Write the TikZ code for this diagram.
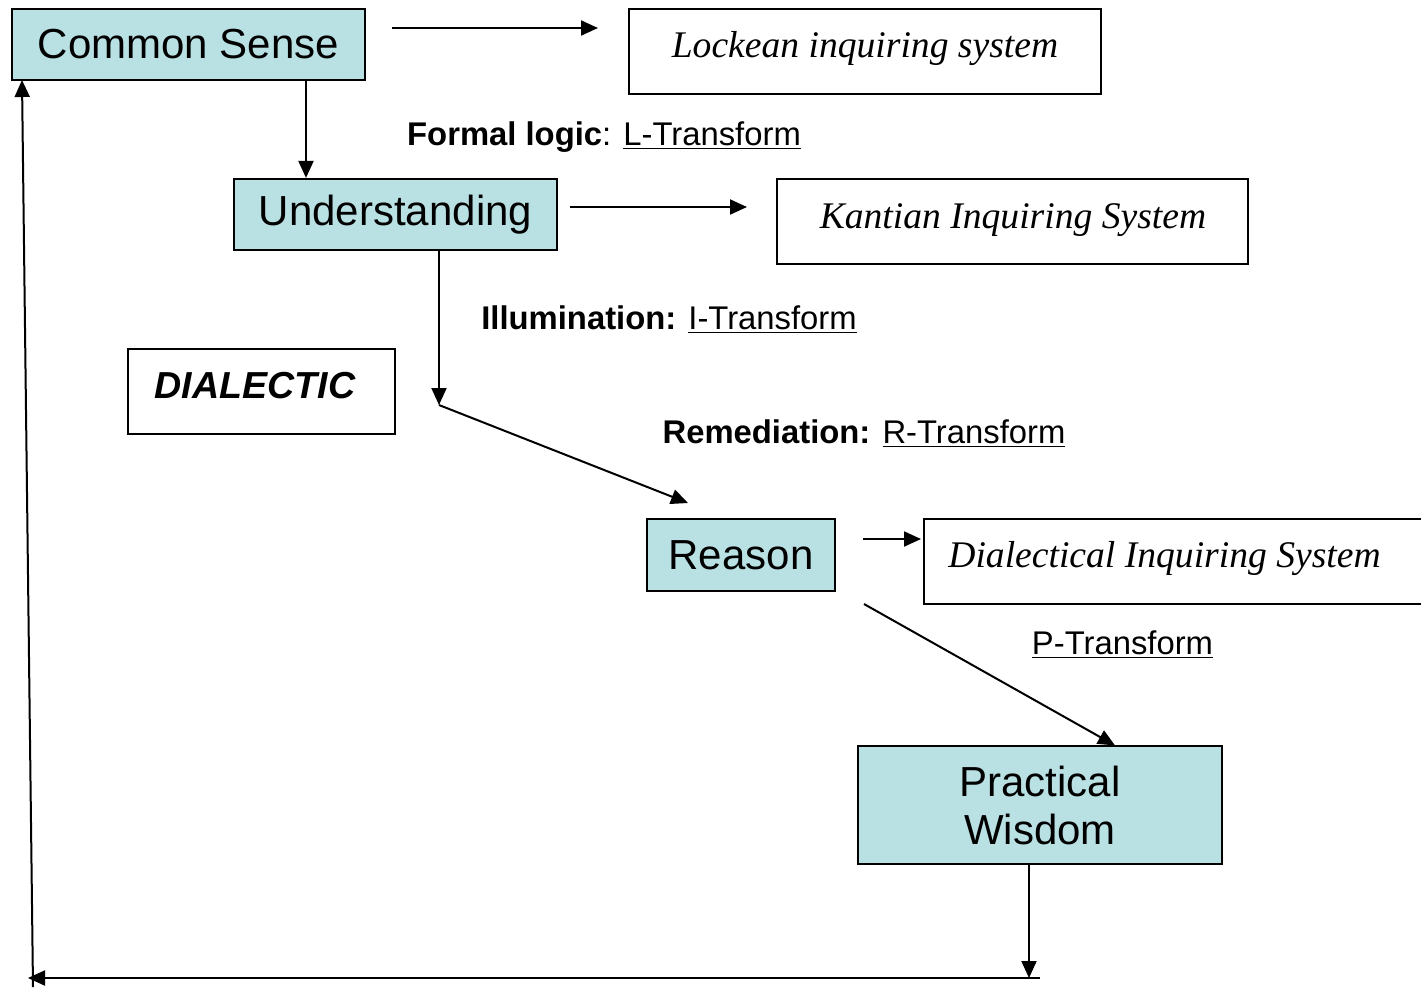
\documentclass[tikz,border=0pt]{standalone}
\usepackage{fontspec}
\setmainfont{Liberation Serif}
\newfontfamily\arialf{Liberation Sans}
\usetikzlibrary{arrows.meta}
\definecolor{teal0}{HTML}{B9E0E3}
\tikzset{
  tbox/.style={draw=black, line width=1.1pt, fill=teal0, inner sep=0pt, font=\arialf\fontsize{21}{24}\selectfont, align=center},
  wbox/.style={draw=black, line width=1.3pt, fill=white, inner sep=0pt},
  itxt/.style={inner sep=0pt, anchor=base, font=\fontsize{18.8}{22}\selectfont\itshape},
  lbl/.style={inner sep=0pt, anchor=base, font=\arialf\fontsize{16.4}{19}\selectfont},
  arr/.style={line width=1pt, -{Triangle[length=8.5pt,width=7.5pt]}},
  ln/.style={line width=1pt}
}
\begin{document}
\begin{tikzpicture}[x=0.5pt,y=-0.5pt]
\clip (0,0) rectangle (1421,987);
\fill[white] (0,0) rectangle (1421,987);
% teal boxes
\node[tbox, minimum width=176.5pt, minimum height=35.5pt] (cs) at (188.5,44.5) {Common Sense};
\node[tbox, minimum width=161.5pt, minimum height=35.5pt] (und) at (395.5,214.5) {Understanding};
\node[tbox, minimum width=94pt, minimum height=36pt] (rea) at (741,555) {Reason};
\node[tbox, line width=0.6pt, minimum width=182pt, minimum height=59pt] (pw) at (1040,805) {Practical\\Wisdom};
% white boxes
\node[wbox, minimum width=236pt, minimum height=42.5pt] (lock) at (865,51.5) {};
\node[itxt] (lockt) at (865,57) {Lockean inquiring system};
\node[wbox, minimum width=235.5pt, minimum height=42.5pt] (kant) at (1012.5,221.5) {};
\node[itxt] (kantt) at (1013,228) {Kantian Inquiring System};
\node[wbox, minimum width=133.5pt, minimum height=42.5pt] (dial) at (261.5,391.5) {};
\node[inner sep=0pt, anchor=base, font=\arialf\fontsize{18.8}{22}\selectfont\bfseries\itshape] (dialt) at (255,398) {DIALECTIC};
\node[wbox, minimum width=260pt, minimum height=42.5pt] (dis) at (1184,561.5) {};
\node[itxt] (dist) at (1164.5,567) {Dialectical Inquiring System};
% labels
\node[lbl] (l1) at (604,145) {\textbf{Formal logic}: \underline{L-Transform}};
\node[lbl] (l2) at (669,329) {\textbf{Illumination:} \underline{I-Transform}};
\node[lbl] (l3) at (864,443) {\textbf{Remediation:} \underline{R-Transform}};
\node[lbl] (l4) at (1122.5,654) {\underline{P-Transform}};
% coordinates
\coordinate (a1s) at (392,28);
\coordinate (a1e) at (598,28);
\coordinate (x2) at (306,0);
\coordinate (a3s) at (570,207);
\coordinate (a3e) at (747,207);
\coordinate (x4) at (439,0);
\coordinate (corner) at (439,405);
\coordinate (a5e) at (688,503);
\coordinate (a6s) at (863,539);
\coordinate (a6e) at (921,539);
\coordinate (a7s) at (864,604);
\coordinate (x7) at (1115,0);
\coordinate (x8) at (1029,0);
\coordinate (a8e) at (1029,978);
\coordinate (a9s) at (1040,978);
\coordinate (a9e) at (28,978);
\coordinate (a10s) at (33,987);
\coordinate (a10e) at (22,80);
% connectors
\draw[arr] (a1s) -- (a1e);
\draw[arr] (cs.south -| x2) -- (und.north -| x2);
\draw[arr] (a3s) -- (a3e);
\draw[arr] (und.south -| x4) -- (corner);
\draw[arr] (corner) -- (a5e);
\draw[arr] (a6s) -- (a6e);
\draw[arr] (a7s) -- (pw.north -| x7);
\draw[arr] (pw.south -| x8) -- (a8e);
\draw[arr] (a9s) -- (a9e);
\draw[arr] (a10s) -- (a10e);
\end{tikzpicture}
\end{document}
